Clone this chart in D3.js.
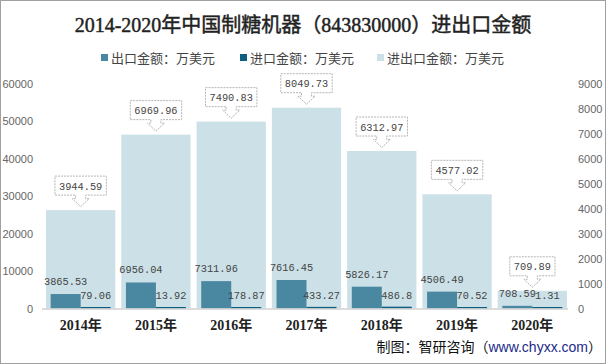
<!DOCTYPE html>
<html><head><meta charset="utf-8">
<script src="https://cdn.jsdelivr.net/npm/d3@7"></script>
<style>
html,body{margin:0;padding:0;background:#fff;}
svg{display:block;}
</style></head>
<body>
<svg id="c" width="606" height="364"></svg>
<script>
const years = ["2014年","2015年","2016年","2017年","2018年","2019年","2020年"];
const exportVals = [3865.53, 6956.04, 7311.96, 7616.45, 5826.17, 4506.49, 708.59];
const importVals = [79.06, 13.92, 178.87, 433.27, 486.8, 70.52, 1.31];
const totalVals = [3944.59, 6969.96, 7490.83, 8049.73, 6312.97, 4577.02, 709.89];
const leftTicks = [0,10000,20000,30000,40000,50000,60000];
const rightTicks = [0,1000,2000,3000,4000,5000,6000,7000,8000,9000];
const seriesNames = ["出口金额：万美元","进口金额：万美元","进出口金额：万美元"];
const colors = ["#4a87a1","#0e5e80","#cbe0e7"];

const svg = d3.select("#c");
const W = 606, H = 364;
const plotTop = 84, plotBottom = 308.5;

svg.append("rect").attr("x",0.5).attr("y",0.5).attr("width",W-1).attr("height",H-1)
  .attr("fill","#fff").attr("stroke","#a0a0a0");

// title
svg.append("text").attr("x",303).attr("y",32).attr("text-anchor","middle")
  .attr("font-family","'Liberation Serif','Noto Sans CJK SC',serif")
  .attr("font-size",20).attr("font-weight","normal").attr("fill","#222")
  .attr("stroke","#222").attr("stroke-width",0.45)
  .text("2014-2020年中国制糖机器（843830000）进出口金额");

// legend
const legX = [101, 240, 377];
seriesNames.forEach((n,i)=>{
  svg.append("rect").attr("x",legX[i]).attr("y",54).attr("width",7).attr("height",7).attr("fill",colors[i]);
  svg.append("text").attr("x",legX[i]+10).attr("y",62.5)
    .attr("font-family","'Noto Sans CJK SC',sans-serif").attr("font-size",13).attr("fill","#444")
    .text(n);
});

const x = d3.scaleBand().domain(years).range([43,570]).paddingInner(0.08).paddingOuter(0.04);
const sub = d3.scaleBand().domain(["e","i"]).range([0,x.bandwidth()]).paddingInner(0).paddingOuter(0.155);
const yL = d3.scaleLinear().domain([0,60000]).range([plotBottom,plotTop]);
const yR = d3.scaleLinear().domain([0,9000]).range([plotBottom,plotTop]);

// axes
const axL = svg.append("g").attr("transform","translate(33,0)")
  .call(d3.axisLeft(yL).tickValues(leftTicks).tickSize(0).tickPadding(0).tickFormat(d3.format("d")));
axL.select(".domain").remove();
const axR = svg.append("g").attr("transform","translate(578,0)")
  .call(d3.axisRight(yR).tickValues(rightTicks).tickSize(0).tickPadding(0).tickFormat(d3.format("d")));
axR.select(".domain").remove();
svg.selectAll(".tick text").attr("font-family","'Liberation Sans',Arial,sans-serif")
  .attr("font-size",11).attr("fill","#666");

// total bars
svg.append("g").selectAll("rect").data(totalVals).join("rect")
  .attr("x",(d,i)=>x(years[i])).attr("width",x.bandwidth())
  .attr("y",d=>yR(d)).attr("height",d=>plotBottom-yR(d)).attr("fill",colors[2]);

// export bars
svg.append("g").selectAll("rect").data(exportVals).join("rect")
  .attr("x",(d,i)=>x(years[i])+sub("e")).attr("width",sub.bandwidth())
  .attr("y",d=>yL(d)).attr("height",d=>plotBottom-yL(d)).attr("fill",colors[0]);

// import bars (min visible height)
svg.append("g").selectAll("rect").data(importVals).join("rect")
  .attr("x",(d,i)=>x(years[i])+sub("i")).attr("width",sub.bandwidth())
  .attr("y",d=>Math.min(yL(d),plotBottom-1.5)).attr("height",d=>Math.max(plotBottom-yL(d),1.5)).attr("fill",colors[1]);

// baseline
svg.append("line").attr("x1",42).attr("x2",568).attr("y1",plotBottom+0.5).attr("y2",plotBottom+0.5)
  .attr("stroke","#d0d0d0").attr("stroke-width",1.5);

const monoFont = "'Liberation Mono','DejaVu Sans Mono',monospace";
// export labels
svg.append("g").selectAll("text").data(exportVals).join("text")
  .attr("x",(d,i)=>x(years[i])+sub("e")+sub.bandwidth()/2).attr("y",d=>yL(d)-9)
  .attr("text-anchor","middle").attr("font-family",monoFont).attr("font-size",10.3).attr("fill","#444")
  .text(d=>d);
// import labels
svg.append("g").selectAll("text").data(importVals).join("text")
  .attr("x",(d,i)=>x(years[i])+sub("i")+sub.bandwidth()/2).attr("y",d=>Math.min(yL(d),plotBottom-1.5)-8)
  .attr("text-anchor","middle").attr("font-family",monoFont).attr("font-size",10.3).attr("fill","#444")
  .text(d=>d);

// total callouts
const cg = svg.append("g");
totalVals.forEach((d,i)=>{
  const cx = x(years[i]) + x.bandwidth()/2;
  const tip = yR(d) - 3.5;
  const yb = tip - 11.5;
  const yt = yb - 19;
  const txt = String(d);
  const w = txt.length*6.2 + 8;
  const x0 = cx - w/2, x1 = cx + w/2;
  const p = `M${x0},${yt}L${x1},${yt}L${x1},${yb}L${cx+5},${yb}L${cx+5},${yb+3.5}L${cx+8.5},${yb+3.5}L${cx},${tip}L${cx-8.5},${yb+3.5}L${cx-5},${yb+3.5}L${cx-5},${yb}L${x0},${yb}Z`;
  cg.append("path").attr("d",p).attr("fill","#fff").attr("stroke","#b5b5b5")
    .attr("stroke-width",1).attr("stroke-dasharray","2,1");
  cg.append("text").attr("x",cx).attr("y",yb-5.5).attr("text-anchor","middle")
    .attr("font-family",monoFont).attr("font-size",10.3).attr("fill","#444").text(txt);
});

// year labels
svg.append("g").selectAll("text").data(years).join("text")
  .attr("x",d=>x(d)+x.bandwidth()/2).attr("y",330)
  .attr("text-anchor","middle").attr("font-family","'Liberation Serif','Noto Sans CJK SC',serif")
  .attr("font-size",14).attr("font-weight","bold").attr("fill","#222").text(d=>d);

// footer
const ft = svg.append("text").attr("x",602).attr("y",352).attr("text-anchor","end")
  .attr("font-family","'Noto Sans CJK SC',sans-serif").attr("font-size",14).attr("fill","#111");
ft.append("tspan").text("制图：智研咨询（");
ft.append("tspan").attr("fill","#1c2a8a").attr("font-family","'Liberation Sans',Arial,sans-serif").text("www.chyxx.com");
ft.append("tspan").text("）");
</script>
</body></html>
